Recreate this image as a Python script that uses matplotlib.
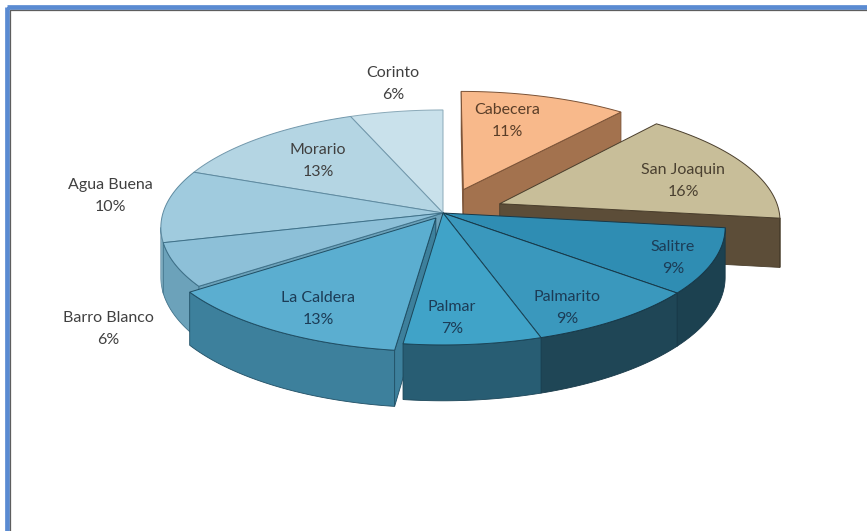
# 3D exploded pie, drawn by hand with polygons
import numpy as np
import matplotlib
matplotlib.use('Agg')
import matplotlib.pyplot as plt
from matplotlib.patches import Polygon, Rectangle

plt.rcParams['font.family'] = ['Lato', 'DejaVu Sans']

# data (clockwise from 12 o'clock)
names = ['Cabecera', 'San Joaquin', 'Salitre', 'Palmarito', 'Palmar',
         'La Caldera', 'Barro Blanco', 'Agua Buena', 'Morario', 'Corinto']
shares = [11, 16, 9, 9, 7, 13, 6, 10, 13, 6]
explode = [0.22, 0.22, 0, 0, 0, 0.05, 0, 0, 0, 0]

top_colors = ['#F8B98B', '#C8BE99', '#2F8DB3', '#3A98BD', '#40A3C8',
              '#5BAED0', '#8DC0D8', '#A0CBDE', '#B4D5E3', '#C9E1EB']
wall_colors = ['#A3724E', '#5C4D38', '#1C4150', '#1F4656', '#285D73',
               '#3D809C', '#6CA2BA', '#8AB7CA', '#A5C8D6', '#BBD7E2']
edge_colors = ['#7A5236', '#4A3E2C', '#173848', '#173848', '#1B4558',
               '#1F4E64', '#3F7189', '#5E8AA0', '#7298AC', '#8AA9B8']
text_colors = ['#5A3E28', '#4A4030', '#1C3C56', '#1C3C56', '#1C3C56',
               '#1C3C56', '#404040', '#404040', '#404040', '#404040']
# label centres in pixel layout
label_xy = [(507, 121), (683, 181), (673, 258), (567, 308), (452, 318),
            (318, 309), (108, 329), (110, 196), (318, 161), (393, 84)]

# geometry in pixels
W, H = 867, 531
CX, CY = 443, 213
A, B = 280, 115.7
K = 0.123
DEPTH = 49


def proj(u, v, down=0.0):
    s = 1.0 / (1.0 + K * v)
    return CX + A * u * s, CY + (-B * v + down) * s


def area(pts):
    x = np.array([p[0] for p in pts])
    y = np.array([p[1] for p in pts])
    return 0.5 * np.sum(x * np.roll(y, -1) - np.roll(x, -1) * y)


fig = plt.figure(figsize=(W / 100, H / 100), dpi=100)
ax = fig.add_axes([0, 0, 1, 1])
ax.set_xlim(0, W)
ax.set_ylim(H, 0)
ax.axis('off')

walls = []
tops = []
vis_a = np.degrees(np.arcsin(K))
start = 90.0
for i, sh in enumerate(shares):
    t1 = start
    t2 = start - 360.0 * sh / 100.0
    start = t2
    mid = np.radians((t1 + t2) / 2)
    ox, oy = explode[i] * np.cos(mid), explode[i] * np.sin(mid)

    def g(th, r=1.0):
        return ox + r * np.cos(np.radians(th)), oy + r * np.sin(np.radians(th))

    # top face
    arc = np.linspace(t1, t2, 80)
    pts = [proj(ox, oy)] + [proj(*g(t)) for t in arc]
    tops.append((oy + 0.5 * np.sin(mid), pts, i))

    # outer wall, front part only
    lo, hi = max(t2, -180 + vis_a), min(t1, -vis_a)
    if hi > lo:
        arc = np.linspace(hi, lo, 80)
        up = [proj(*g(t)) for t in arc]
        dn = [proj(*g(t), down=DEPTH) for t in arc[::-1]]
        dep = np.mean([g(t)[1] for t in arc])
        walls.append((dep, up + dn, i))

    # radial walls
    apex_t, apex_b = proj(ox, oy), proj(ox, oy, DEPTH)
    e_t, e_b = proj(*g(t2)), proj(*g(t2), down=DEPTH)
    quad = [apex_t, e_t, e_b, apex_b]
    if area(quad) > 0:
        walls.append((oy + 0.5 * np.sin(np.radians(t2)), quad, i))
    s_t, s_b = proj(*g(t1)), proj(*g(t1), down=DEPTH)
    quad = [apex_t, apex_b, s_b, s_t]
    if area(quad) > 0:
        walls.append((oy + 0.5 * np.sin(np.radians(t1)), quad, i))

# far faces first
for dep, pts, i in sorted(walls, key=lambda w: -w[0]):
    ax.add_patch(Polygon(pts, closed=True, facecolor=wall_colors[i],
                         edgecolor=edge_colors[i], linewidth=0.6))
for dep, pts, i in sorted(tops, key=lambda w: -w[0]):
    ax.add_patch(Polygon(pts, closed=True, facecolor=top_colors[i],
                         edgecolor=edge_colors[i], linewidth=0.7))

for i, nm in enumerate(names):
    x, y = label_xy[i]
    ax.text(x, y, '%s\n%d%%' % (nm, shares[i]), ha='center', va='center',
            fontsize=11.5, color=text_colors[i], linespacing=1.75)

# window frame
ax.add_patch(Rectangle((6.5, 6.5), W + 20, H + 20, fill=False,
                       edgecolor='#5A8BD2', linewidth=3.4))
ax.add_patch(Rectangle((9.5, 9.5), W + 20, H + 20, fill=False,
                       edgecolor='#5E5E5E', linewidth=0.9))

fig.savefig('out.png', dpi=100, facecolor='white')
